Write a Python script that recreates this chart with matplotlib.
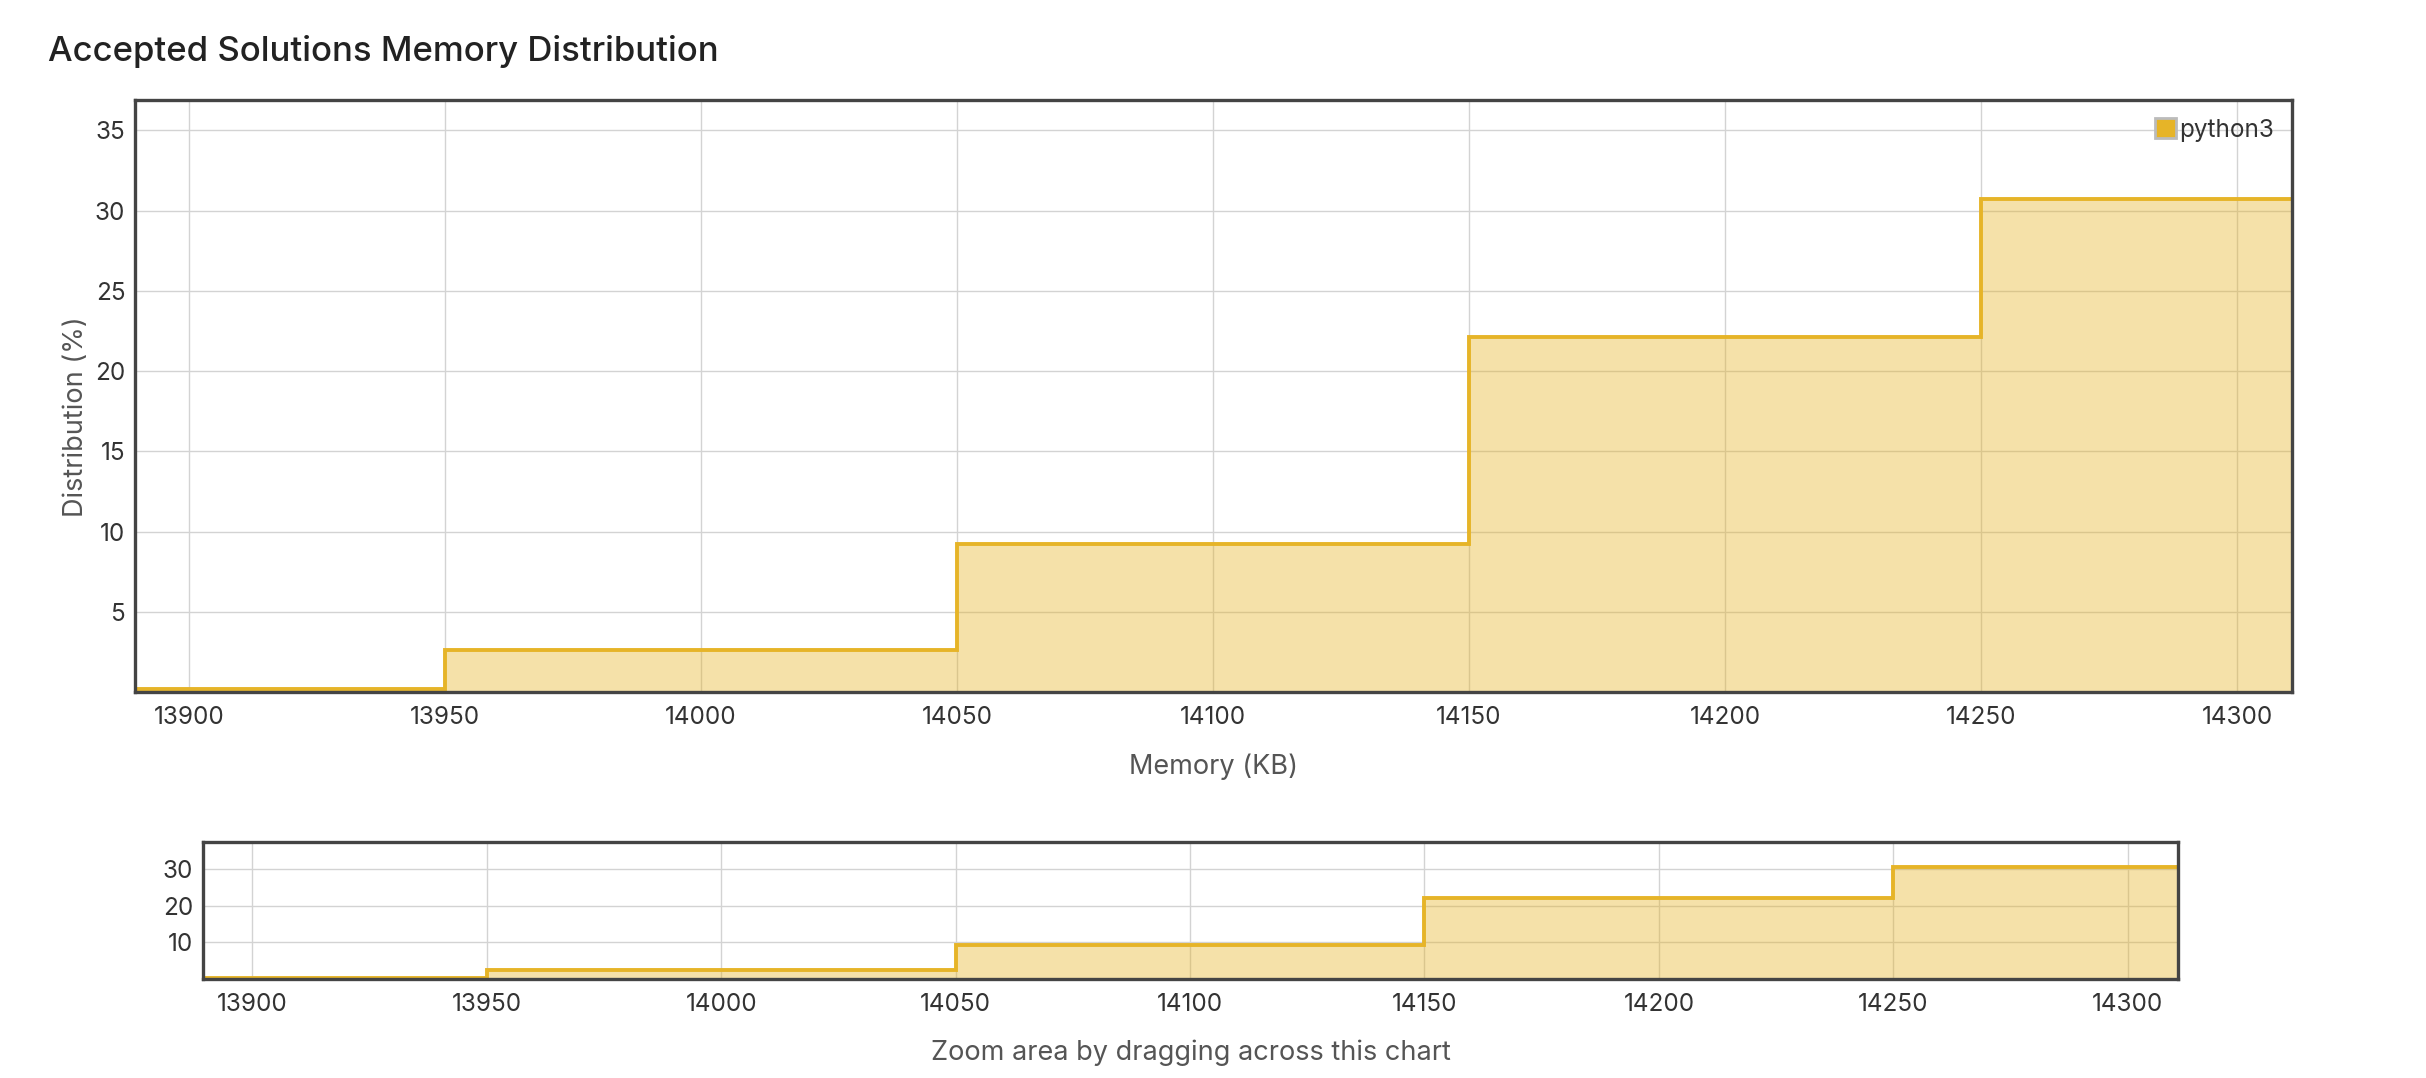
import matplotlib
matplotlib.use("Agg")
import matplotlib.pyplot as plt
from matplotlib.patches import Patch

# ---- data ----
bin_edges = [13850, 13950, 14050, 14150, 14250, 14350]
distribution = [0.2, 2.6, 9.2, 22.1, 30.7]
series_name = "python3"
x_ticks = [13900, 13950, 14000, 14050, 14100, 14150, 14200, 14250, 14300]
main_y_ticks = [5, 10, 15, 20, 25, 30, 35]
nav_y_ticks = [10, 20, 30]

plt.rcParams['font.family'] = ['Inter', 'DejaVu Sans']

LINE = '#E6B428'
SPINE = '#444444'
GRID = '#d3d3d3'
TXT = '#333333'
LBL = '#555555'

W, H = 2426, 1078
fig = plt.figure(figsize=(W / 100, H / 100), dpi=100)

def style(ax, yticks, ylim):
    ax.stairs(distribution, bin_edges, fill=True, color=LINE, alpha=0.4, lw=0, zorder=2)
    ax.stairs(distribution, bin_edges, fill=False, color=LINE, lw=2.8, zorder=3, baseline=None)
    ax.set_xlim(13889.5, 14310.7)
    ax.set_ylim(*ylim)
    ax.set_xticks(x_ticks)
    ax.set_yticks(yticks)
    ax.grid(True, color=GRID, lw=1.0, zorder=1)
    ax.set_axisbelow(True)
    ax.tick_params(length=0, labelsize=17.5, labelcolor=TXT)
    ax.tick_params(axis='x', pad=10)
    ax.tick_params(axis='y', pad=7)
    for s in ax.spines.values():
        s.set_color(SPINE)
        s.set_linewidth(2.4)
        s.set_zorder(5)

main_l, main_r, main_t, main_b = 135, 2292, 100, 692
ax = fig.add_axes([main_l / W, 1 - main_b / H, (main_r - main_l) / W, (main_b - main_t) / H])
style(ax, main_y_ticks, (0, 36.9))
ax.set_xlabel("Memory (KB)", fontsize=19.5, color=LBL)
ax.xaxis.label.set_va('center')
ax.xaxis.set_label_coords(0.5, (main_b - 767) / (main_b - main_t))
ax.set_ylabel("Distribution (%)", fontsize=19.5, color=LBL)
ax.yaxis.label.set_va('center')
ax.yaxis.set_label_coords((76 - main_l) / (main_r - main_l), (main_b - 417) / (main_b - main_t))

ax.legend(handles=[Patch(facecolor=LINE, edgecolor='#bbbbbb', lw=2, label=series_name)],
          loc='upper right', frameon=False, fontsize=17.5, handlelength=0.9,
          handleheight=0.9, handletextpad=0.1, borderaxespad=0.35,
          labelcolor=TXT)

nav_l, nav_r, nav_t, nav_b = 203, 2178, 842, 979
nav = fig.add_axes([nav_l / W, 1 - nav_b / H, (nav_r - nav_l) / W, (nav_b - nav_t) / H])
style(nav, nav_y_ticks, (0, 37.5))
nav.set_xlabel("Zoom area by dragging across this chart", fontsize=19.5, color=LBL)
nav.xaxis.label.set_va('center')
nav.xaxis.set_label_coords(0.5, (nav_b - 1053) / (nav_b - nav_t))

fig.text(48 / W, 1 - 61 / H, "Accepted Solutions Memory Distribution", fontsize=25,
         color='#222222', va='baseline', ha='left', fontweight='medium')

fig.savefig("out.png", dpi=100, facecolor='white')
